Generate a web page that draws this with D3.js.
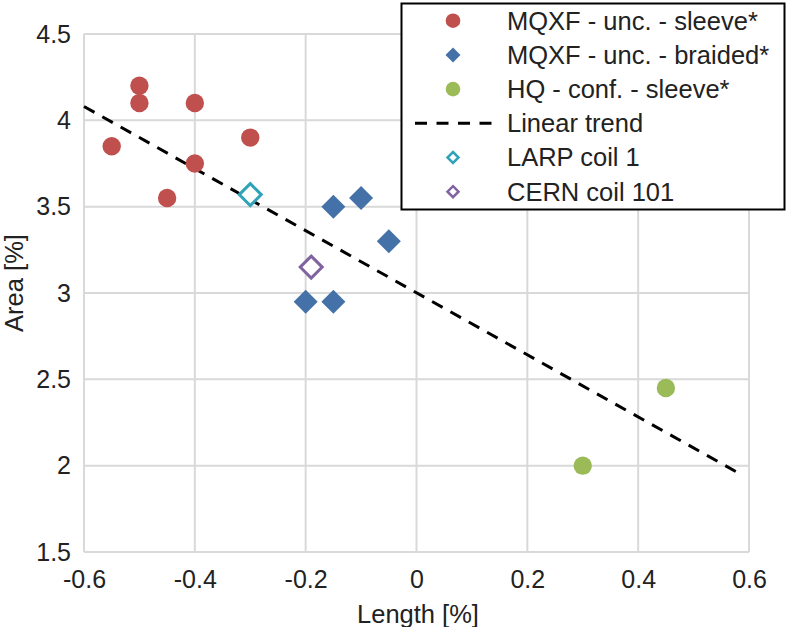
<!DOCTYPE html>
<html>
<head>
<meta charset="utf-8">
<script src="https://cdn.jsdelivr.net/npm/d3@7"></script>
<style>
  body { margin: 0; background: #fff; }
  text { font-family: "Liberation Sans", Arial, sans-serif; fill: #222; }
</style>
</head>
<body>
<div id="chart"></div>
<script>
// series: [length %, area %]
var sleeveX = [-0.55, -0.5, -0.5, -0.45, -0.4, -0.4, -0.3];
var sleeveY = [3.85, 4.2, 4.1, 3.55, 4.1, 3.75, 3.9];
var braidedX = [-0.2, -0.15, -0.15, -0.1, -0.05];
var braidedY = [2.95, 2.95, 3.5, 3.55, 3.3];
var hqX = [0.3, 0.45];
var hqY = [2.0, 2.45];
var larpX = [-0.3];
var larpY = [3.57];
var cernX = [-0.19];
var cernY = [3.15];
var trendX = [-0.6, 0.585];
var trendY = [4.08, 1.95];

var xTicks = [-0.6, -0.4, -0.2, 0, 0.2, 0.4, 0.6];
var yTicks = [1.5, 2, 2.5, 3, 3.5, 4, 4.5];

var legendNames = ["MQXF - unc. - sleeve*", "MQXF - unc. - braided*", "HQ - conf. - sleeve*",
                   "Linear trend", "LARP coil 1", "CERN coil 101"];

var width = 788, height = 627;
var red = "#c0504d", blue = "#4472a8", green = "#9bbb59", teal = "#31a3b8", purple = "#8064a2";

var svg = d3.select("#chart").append("svg")
    .attr("width", width)
    .attr("height", height);

var x = d3.scaleLinear().domain([-0.6, 0.6]).range([84, 749]);
var y = d3.scaleLinear().domain([1.5, 4.5]).range([552, 34]);

function zip(a, b) { return a.map(function(v, i) { return [v, b[i]]; }); }

// grid
svg.append("g").selectAll("line").data(xTicks).enter().append("line")
    .attr("x1", function(d) { return x(d); }).attr("x2", function(d) { return x(d); })
    .attr("y1", y(4.5)).attr("y2", y(1.5))
    .attr("stroke", "#d9d9d9").attr("stroke-width", 2);
svg.append("g").selectAll("line").data(yTicks).enter().append("line")
    .attr("y1", function(d) { return y(d); }).attr("y2", function(d) { return y(d); })
    .attr("x1", x(-0.6)).attr("x2", x(0.6))
    .attr("stroke", "#d9d9d9").attr("stroke-width", 2);

// axes (labels only)
var xAxis = svg.append("g").attr("transform", "translate(0," + y(1.5) + ")")
    .call(d3.axisBottom(x).tickValues(xTicks).tickSize(0).tickPadding(18)
        .tickFormat(function(d) { return String(d); }));
var yAxis = svg.append("g").attr("transform", "translate(" + x(-0.6) + ",0)")
    .call(d3.axisLeft(y).tickValues(yTicks).tickSize(0).tickPadding(13)
        .tickFormat(function(d) { return String(d); }));
[xAxis, yAxis].forEach(function(a) {
    a.select(".domain").remove();
    a.selectAll("text").attr("font-size", 25).attr("font-family", null).style("fill", "#222");
});

svg.append("text").attr("x", 418).attr("y", 623).attr("text-anchor", "middle")
    .attr("font-size", 25.5).text("Length [%]");
svg.append("text").attr("transform", "translate(23,283) rotate(-90)").attr("text-anchor", "middle")
    .attr("font-size", 25.5).text("Area [%]");

// trend line
var line = d3.line().x(function(d) { return x(d[0]); }).y(function(d) { return y(d[1]); });
svg.append("path").datum(zip(trendX, trendY))
    .attr("d", line).attr("fill", "none")
    .attr("stroke", "#000").attr("stroke-width", 3).attr("stroke-dasharray", "12,9");

function diamond(r) {
    return "M0," + (-r) + "L" + r + ",0L0," + r + "L" + (-r) + ",0Z";
}

// points
svg.append("g").selectAll("circle").data(zip(sleeveX, sleeveY)).enter().append("circle")
    .attr("cx", function(d) { return x(d[0]); }).attr("cy", function(d) { return y(d[1]); })
    .attr("r", 9.2).attr("fill", red);
svg.append("g").selectAll("circle").data(zip(hqX, hqY)).enter().append("circle")
    .attr("cx", function(d) { return x(d[0]); }).attr("cy", function(d) { return y(d[1]); })
    .attr("r", 9.2).attr("fill", green);
svg.append("g").selectAll("path").data(zip(braidedX, braidedY)).enter().append("path")
    .attr("transform", function(d) { return "translate(" + x(d[0]) + "," + y(d[1]) + ")"; })
    .attr("d", diamond(12)).attr("fill", blue);
svg.append("g").selectAll("path").data(zip(larpX, larpY)).enter().append("path")
    .attr("transform", function(d) { return "translate(" + x(d[0]) + "," + y(d[1]) + ")"; })
    .attr("d", diamond(11)).attr("fill", "#fff").attr("stroke", teal).attr("stroke-width", 3);
svg.append("g").selectAll("path").data(zip(cernX, cernY)).enter().append("path")
    .attr("transform", function(d) { return "translate(" + x(d[0]) + "," + y(d[1]) + ")"; })
    .attr("d", diamond(11)).attr("fill", "#fff").attr("stroke", purple).attr("stroke-width", 3);

// legend
var legend = svg.append("g");
legend.append("rect").attr("x", 401.5).attr("y", 3.5).attr("width", 383).attr("height", 206)
    .attr("fill", "#fff").attr("stroke", "#000").attr("stroke-width", 2);
var rows = legend.selectAll("g.row").data(legendNames).enter().append("g")
    .attr("class", "row")
    .attr("transform", function(d, i) { return "translate(0," + (20.7 + i * 34.2) + ")"; });
rows.append("text").attr("x", 507).attr("dy", "0.35em").attr("font-size", 25.5)
    .text(function(d) { return d; });
rows.each(function(d, i) {
    var g = d3.select(this);
    if (i === 0 || i === 2) {
        g.append("circle").attr("cx", 453).attr("r", 7.3).attr("fill", i === 0 ? red : green);
    } else if (i === 1) {
        g.append("path").attr("transform", "translate(453,0)").attr("d", diamond(7.5)).attr("fill", blue);
    } else if (i === 3) {
        g.append("line").attr("x1", 415).attr("x2", 492)
            .attr("stroke", "#000").attr("stroke-width", 3).attr("stroke-dasharray", "12,9.5");
    } else {
        g.append("path").attr("transform", "translate(453,0)").attr("d", diamond(5.5))
            .attr("fill", "#fff").attr("stroke", i === 4 ? teal : purple).attr("stroke-width", 2.5);
    }
});
</script>
</body>
</html>
